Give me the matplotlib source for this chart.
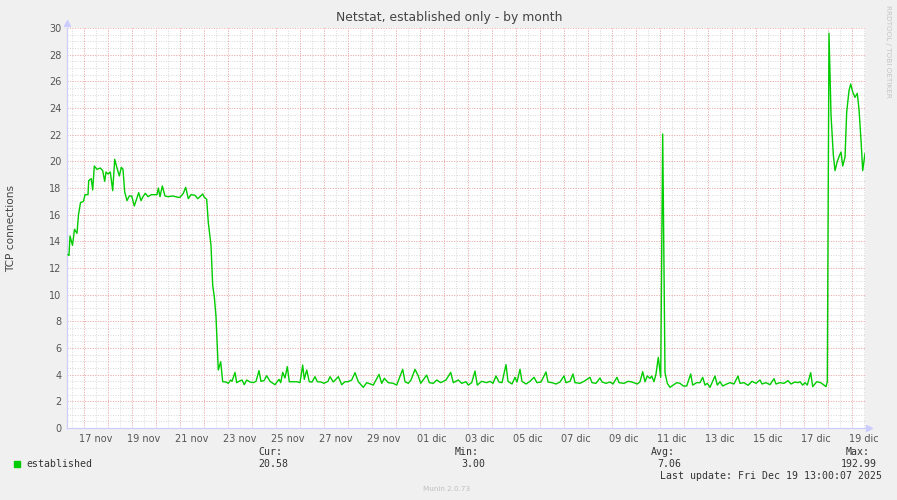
import numpy as np
import matplotlib
matplotlib.use("Agg")
from matplotlib import pyplot as plt
from matplotlib.patches import Rectangle

# hours since 2025-11-16 00:00 and TCP connections (established)
hours = [8, 9, 10, 12.5, 14.5, 17, 18.5, 20.5, 23.5, 25, 28, 28.7, 31.3, 32.7,
         34.3, 37, 40.3, 42.7, 44.7, 46, 48, 50.3, 52.7, 54.7, 57, 59.3, 61.3,
         63, 64.7, 67, 69.3, 71.7, 74.3, 76.7, 78.7, 81, 83, 85.3, 88, 91.3,
         97, 98.3, 100, 102.3, 105, 108, 113, 118, 120, 123.3, 125.7, 128.3,
         131, 135, 137.7, 140, 142.7, 144.3, 146.7, 148.3, 151, 152.7, 154.3,
         156, 157.3, 158.3, 160.7, 162.7,
         166, 168.3, 170.7, 172, 175, 176.7, 179, 182, 184.3, 186.7, 190,
         193.3, 196, 199, 201, 204, 206.7, 210, 212, 215, 219, 220.7, 222.7,
         225, 227.3, 229.3, 233, 237, 240, 242.7, 244.3, 246.7, 249.3, 252,
         255, 257.3, 261, 264, 268, 270, 273.3, 278.3, 281.7, 285, 288,
         291.7, 295, 298.3, 303.3, 306.7, 313.3, 319, 321.7, 324.3, 328.3,
         333.3, 336.7, 342.7, 345, 348.3, 351, 355, 358.3, 360.7, 366.7,
         369.3, 373.3, 376.7, 380.7, 386, 390.7, 393.3, 398.3, 401.7, 406,
         408.3, 411.7, 415, 417.3, 421.7, 426.7,
         430, 433, 436, 439, 442, 446, 448, 452, 455, 457, 460, 462, 466, 470,
         474, 477, 481, 486, 488, 492, 496, 500, 504, 506, 510, 513, 515, 520,
         524, 530, 532, 536, 540, 542, 546, 550, 553, 557, 559, 564, 568, 572,
         577.3, 580, 582.7, 585, 587.3, 590, 591.7, 594, 596, 598.3, 600.7,
         602.7, 605, 607.3, 610, 613.3, 616.7, 620, 623.3, 626.7, 630.7, 632.7,
         636.7, 640, 642.7, 645, 647.3, 650, 655, 657.3, 660, 662.7, 666.7,
         670, 674, 678, 680, 684, 688, 692, 696, 700, 702, 706, 710, 714, 716,
         720, 724, 728, 731, 735, 738,
         740, 742.7, 745, 747.3, 750.7, 752.7, 756.7, 760.7, 764, 766, 767.3,
         769, 771, 773.3, 775, 777.3, 779.3, 781, 782.7, 785, 786.7, 789,
         790.7, 792.7, 795, 797.3, 799, 801, 802.7, 805]
established = [13.0, 12.95, 14.4, 13.7, 14.9, 14.6, 16.0, 16.9, 17.0, 17.5, 17.5,
               18.55, 18.7, 17.85, 19.65, 19.4, 19.5, 19.3, 18.5, 19.2, 19.05,
               19.2, 17.8, 20.15, 19.5, 18.9, 19.55, 19.4, 17.7, 17.05, 17.4,
               17.4, 16.65, 17.2, 17.65, 17.05, 17.35, 17.6, 17.35, 17.5,
               17.5, 18.0, 17.35, 18.15, 17.4, 17.35, 17.4, 17.3, 17.3, 17.6,
               18.05, 17.2, 17.5, 17.45, 17.2, 17.35, 17.55, 17.3, 17.15, 15.4,
               13.7, 10.7, 9.85, 8.35, 6.1, 4.35, 4.97, 3.47,
               3.45, 3.35, 3.6, 3.5, 4.17, 3.4, 3.5, 3.6, 3.25, 3.6, 3.45, 3.4,
               3.5, 4.3, 3.5, 3.55, 3.92, 3.5, 3.4, 3.25, 3.65, 3.4, 4.17, 3.75,
               4.6, 3.47, 3.47, 3.47, 3.4, 4.72, 3.65, 4.35, 3.47, 3.45, 3.85,
               3.47, 3.45, 3.35, 3.5, 3.85, 3.45, 3.85, 3.25, 3.47, 3.47,
               3.6, 4.15, 3.47, 3.05, 3.4, 3.22, 4.02, 3.35, 3.72, 3.4, 3.35,
               3.22, 4.4, 3.47, 3.35, 3.6, 4.4, 3.9, 3.35, 3.97, 3.4, 3.35, 3.6,
               3.4, 3.6, 4.17, 3.4, 3.6, 3.35, 3.47, 3.22, 3.4, 4.27, 3.22, 3.5,
               3.4,
               3.5, 3.35, 3.9, 3.45, 3.4, 4.75, 3.5, 3.3, 3.8, 3.45, 4.4, 3.5,
               3.3, 3.5, 3.8, 3.4, 3.45, 4.2, 3.45, 3.4, 3.3, 3.45, 3.9, 3.4,
               3.5, 4.05, 3.4, 3.35, 3.5, 3.8, 3.4, 3.35, 3.75, 3.45, 3.35,
               3.45, 3.3, 3.8, 3.4, 3.35, 3.5, 3.45,
               3.3, 3.47, 4.22, 3.47, 3.9, 3.72, 3.9, 3.47, 4.05, 5.3, 3.8,
               22.05, 4.15, 3.35, 3.05, 3.22, 3.4, 3.35, 3.15, 3.15, 4.05, 3.22,
               3.4, 3.4, 3.8, 3.22, 3.35, 3.05, 3.9, 3.22, 3.47, 3.15, 3.3,
               3.4, 3.3, 3.9, 3.35, 3.4, 3.2, 3.5, 3.35, 3.6, 3.3, 3.4, 3.25,
               3.7, 3.3, 3.4, 3.35, 3.55, 3.3, 3.45, 3.4,
               3.47, 3.22, 3.4, 3.22, 4.15, 3.1, 3.47, 3.4, 3.22, 3.1, 3.47,
               29.6, 23.5, 20.5, 19.3, 20.0, 20.4, 20.7, 19.65, 20.3, 23.7,
               25.3, 25.8, 25.2, 24.8, 25.1, 23.9, 21.6, 19.3, 20.58]

day_labels = ["17 nov", "19 nov", "21 nov", "23 nov", "25 nov", "27 nov",
              "29 nov", "01 dic", "03 dic", "05 dic", "07 dic", "09 dic",
              "11 dic", "13 dic", "15 dic", "17 dic", "19 dic"]
stat_names = ["Cur:", "Min:", "Avg:", "Max:"]
stat_values = ["20.58", "3.00", "7.06", "192.99"]

W, H = 897, 500
bg = "#F0F0F0"
major_c = "#F4AAAA"
minor_c = "#D8D8D8"
axis_c = "#CCCCFF"
mono = "DejaVu Sans Mono"


def px(x, y):
    return x / W, 1 - y / H


fig = plt.figure(figsize=(W / 100, H / 100), dpi=100, facecolor=bg)
ax = fig.add_axes([67 / W, 72 / H, 798 / W, 400 / H])
ax.set_facecolor("white")

ax.set_xlim(7, 805)
ax.set_ylim(0, 30)

dots = (0, (1, 1.6))
# grid: gray every 12 h / 0.5, red every day / 2
for h in np.arange(12, 805, 12):
    ax.axvline(h, color=minor_c, lw=0.7, ls=dots, zorder=0.5)
for v in np.arange(0.5, 30, 0.5):
    ax.axhline(v, color=minor_c, lw=0.7, ls=dots, zorder=0.5)
for h in np.arange(24, 805, 24):
    ax.axvline(h, color=major_c, lw=0.7, ls=dots, zorder=0.6)
for v in np.arange(2, 31, 2):
    ax.axhline(v, color=major_c, lw=0.7, ls=dots, zorder=0.6)

ax.plot(hours, established, color="#00CC00", lw=1.0, zorder=3)

label_pos = 36 + 48 * np.arange(len(day_labels))
ax.set_xticks(label_pos, day_labels)
ax.set_yticks(np.arange(0, 31, 2))
ax.tick_params(length=0, labelsize=7, labelcolor="#555555")
ax.tick_params(axis="x", pad=4)
ax.tick_params(axis="y", pad=4)

for s in ["top", "right"]:
    ax.spines[s].set_visible(False)
for s in ["left", "bottom"]:
    ax.spines[s].set_color(axis_c)
    ax.spines[s].set_linewidth(0.9)
ax.plot([0], [1.012], marker="^", ms=5, color=axis_c, transform=ax.transAxes,
        clip_on=False)
ax.plot([1.005], [0], marker=">", ms=5, color=axis_c, transform=ax.transAxes,
        clip_on=False)

fig.text(*px(449, 18), "Netstat, established only - by month", ha="center",
         va="center", fontsize=8.9, color="#444444")
fig.text(*px(11, 228), "TCP connections", rotation=90, ha="center",
         va="center", fontsize=7.6, color="#444444")
fig.text(*px(888, 5), "RRDTOOL / TOBI OETIKER", rotation=270, ha="center",
         va="top", fontsize=5.2, color="#C4C4C4")

fig.add_artist(Rectangle(px(14, 467), 6 / W, 6 / H, color="#00CC00",
                         transform=fig.transFigure))
fig.text(*px(26, 464), "established", ha="left", va="center", fontsize=7.1,
         family=mono, color="#333333")

name_x = [258, 455, 651, 846]
val_x = [258, 461, 657, 841]
for nx, vx, n, v in zip(name_x, val_x, stat_names, stat_values):
    fig.text(*px(nx, 452), n, ha="left", va="center", fontsize=7.1,
             family=mono, color="#333333")
    fig.text(*px(vx, 464), v, ha="left", va="center", fontsize=7.1,
             family=mono, color="#333333")

fig.text(*px(882, 476), "Last update: Fri Dec 19 13:00:07 2025", ha="right",
         va="center", fontsize=7.1, family=mono, color="#333333")
fig.text(*px(447, 489), "Munin 2.0.73", ha="center", va="center",
         fontsize=5.2, color="#C0C0C0")

fig.savefig("out.png", dpi=100, facecolor=bg)
